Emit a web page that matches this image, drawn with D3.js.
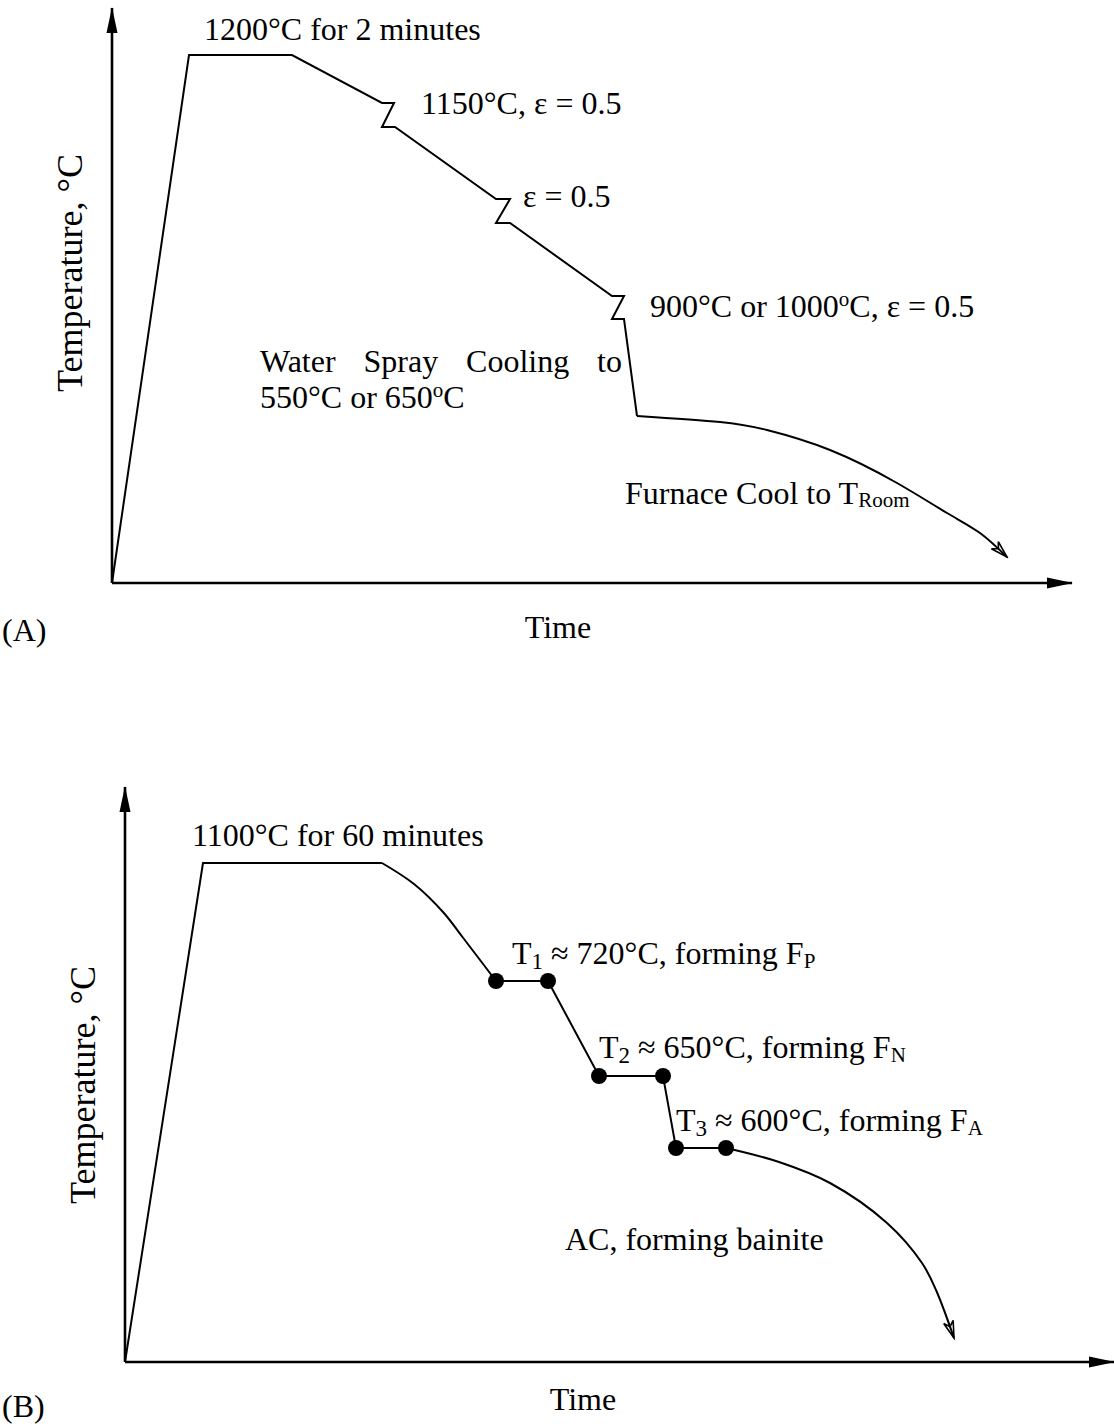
<!DOCTYPE html>
<html><head><meta charset="utf-8">
<script src="https://cdn.jsdelivr.net/npm/d3@7"></script>
<style>
body{margin:0;background:#fff}
svg text{font-family:"Liberation Serif","Times New Roman",serif;fill:#000;white-space:pre}
</style></head><body>
<svg id="c" width="1114" height="1427"></svg>
<script>
// ---------- Panel A: schematic time (t) / temperature (T), arbitrary units ----------
const timeA = [0, 7.7, 18.0, 27.0, 28.2, 27.0, 28.3, 38.4, 39.8, 38.4, 39.8, 50.0, 51.2, 50.0, 51.2, 52.5];
const tempA = [0, 105.6, 105.6, 96.0, 96.0, 91.2, 91.2, 76.8, 76.8, 72.0, 72.0, 57.4, 57.4, 52.8, 52.8, 33.4];
const furnaceTime = [52.5, 60.8, 65.5, 71.8, 78.5, 83.5, 86.8, 89.5];
const furnaceTemp = [33.4, 32.2, 30.6, 26.6, 20.0, 14.0, 10.0, 5.2];

// ---------- Panel B ----------
const timeB = [0, 7.8, 25.7];
const tempB = [0, 99.8, 99.8];
const coolTime = [25.7, 28.9, 31.8, 33.9, 37.1];
const coolTemp = [99.8, 95.6, 90.0, 84.6, 76.2];
const holdTime = [37.1, 42.3, 47.4, 53.8, 55.1, 60.1];
const holdTemp = [76.2, 76.2, 57.2, 57.2, 42.8, 42.8];
const acTime = [60.1, 65.4, 70.5, 76.2, 79.7, 81.1, 82.9];
const acTemp = [42.8, 40.0, 35.8, 27.8, 19.8, 14.4, 4.8];

const axisLabels = {x: "Time", y: "Temperature, °C"};
const panelLabels = ["(A)", "(B)"];

const svg = d3.select("#c");
const FS = 32;

const defs = svg.append("defs");
defs.append("marker").attr("id","axArrow").attr("markerUnits","userSpaceOnUse")
  .attr("viewBox","0 0 26 14").attr("markerWidth",26).attr("markerHeight",14)
  .attr("refX",25).attr("refY",7).attr("orient","auto")
  .append("path").attr("d","M0,1.5 L26,7 L0,12.5 Z").attr("fill","#000");
defs.append("marker").attr("id","openArrow").attr("markerUnits","userSpaceOnUse")
  .attr("viewBox","-20 -8 22 16").attr("markerWidth",22).attr("markerHeight",16)
  .attr("refX",0).attr("refY",0).attr("orient","auto")
  .append("path").attr("d","M-17,-5 L0,0 L-17,5 M-17,-5 L-12,0 L-17,5").attr("fill","none").attr("stroke","#000").attr("stroke-width",1.6);

function zip(a,b){ return a.map((v,i)=>[v,b[i]]); }

function label(g, x, y, parts, size) {
  const t = g.append("text").attr("x", x).attr("y", y).attr("font-size", size || FS);
  let shift = 0;
  parts.forEach(p => {
    if (typeof p === "string") {
      const s = t.append("tspan").text(p);
      if (shift) { s.attr("dy", -shift); shift = 0; }
    } else {
      t.append("tspan").text(p.t).attr("font-size", p.size).attr("dy", p.dy - shift);
      shift = p.dy;
    }
  });
  return t;
}

function axes(g, x, y, tEnd, TEnd, xlabelT, xlabelDy, panel, panelY, ylabelMid) {
  const line = d3.line().x(d=>x(d[0])).y(d=>y(d[1]));
  g.append("path").attr("d", line([[0,0],[tEnd,0]])).attr("stroke","#000").attr("stroke-width",2.6).attr("fill","none").attr("marker-end","url(#axArrow)");
  g.append("path").attr("d", line([[0,0],[0,TEnd]])).attr("stroke","#000").attr("stroke-width",2.6).attr("fill","none").attr("marker-end","url(#axArrow)");
  g.append("text").attr("x", x(xlabelT)).attr("y", y(0)+xlabelDy).attr("text-anchor","middle").attr("font-size",FS).text(axisLabels.x);
  g.append("text").attr("x", 2).attr("y", panelY).attr("font-size",FS).text(panel);
  g.append("text").attr("transform",`translate(${x(0)-30},${y(ylabelMid)}) rotate(-90)`).attr("text-anchor","middle").attr("font-size",36).text(axisLabels.y);
}

// ---------- Panel A ----------
{
  const x = d3.scaleLinear().domain([0,96]).range([112,1072]);
  const y = d3.scaleLinear().domain([0,115]).range([583,8]);
  const g = svg.append("g");
  axes(g, x, y, 96, 115, 44.6, 55, panelLabels[0], 641, 62);
  const ln = d3.line().x(d=>x(d[0])).y(d=>y(d[1]));
  g.append("path").attr("d", ln(zip(timeA,tempA))).attr("fill","none").attr("stroke","#000").attr("stroke-width",2).attr("stroke-linejoin","miter");
  g.append("path").attr("d", d3.line().x(d=>x(d[0])).y(d=>y(d[1])).curve(d3.curveNatural)(zip(furnaceTime,furnaceTemp))).attr("fill","none").attr("stroke","#000").attr("stroke-width",2).attr("marker-end","url(#openArrow)");

  label(g, x(9.2), y(108.6), ["1200°C for 2 minutes"]);
  label(g, x(30.9), y(93.8), ["1150°C, ε = 0.5"]);
  label(g, x(41.1), y(75.2), ["ε = 0.5"]);
  label(g, x(53.8), y(53.2), ["900°C or 1000", {t:"o", size:21, dy:-11}, "C, ε = 0.5"]);
  const w = label(g, x(14.8), y(42.2), ["Water Spray Cooling to"]);
  const natural = w.node().getComputedTextLength();
  w.style("word-spacing", Math.max(0, ((x(51.0)-x(14.8)) - natural)/3) + "px");
  label(g, x(14.8), y(35.0), ["550°C or 650", {t:"o", size:21, dy:-11}, "C"]);
  label(g, x(51.3), y(15.8), ["Furnace Cool to T", {t:"Room", size:21, dy:3}]);
}

// ---------- Panel B ----------
{
  const x = d3.scaleLinear().domain([0,98.9]).range([125,1114]);
  const y = d3.scaleLinear().domain([0,115]).range([1362,787]);
  const g = svg.append("g");
  axes(g, x, y, 98.9, 115, 45.8, 48, panelLabels[1], 1417, 55.4);
  const ln = d3.line().x(d=>x(d[0])).y(d=>y(d[1]));
  g.append("path").attr("d", ln(zip(timeB,tempB))).attr("fill","none").attr("stroke","#000").attr("stroke-width",2);
  g.append("path").attr("d", d3.line().x(d=>x(d[0])).y(d=>y(d[1])).curve(d3.curveCatmullRom.alpha(0.5))(zip(coolTime,coolTemp))).attr("fill","none").attr("stroke","#000").attr("stroke-width",2);
  g.append("path").attr("d", ln(zip(holdTime,holdTemp))).attr("fill","none").attr("stroke","#000").attr("stroke-width",2);
  g.append("path").attr("d", d3.line().x(d=>x(d[0])).y(d=>y(d[1])).curve(d3.curveCatmullRom.alpha(0.5))(zip(acTime,acTemp))).attr("fill","none").attr("stroke","#000").attr("stroke-width",2).attr("marker-end","url(#openArrow)");
  g.selectAll("circle").data(zip(holdTime,holdTemp)).join("circle")
    .attr("cx", d=>x(d[0])).attr("cy", d=>y(d[1])).attr("r", 8).attr("fill","#000");

  label(g, x(6.7), y(103.2), ["1100°C for 60 minutes"]);
  label(g, x(38.7), y(79.6), ["T", {t:"1", size:23, dy:5}, " ≈ 720°C, forming F", {t:"P", size:21, dy:4}]);
  label(g, x(47.4), y(60.8), ["T", {t:"2", size:23, dy:5}, " ≈ 650°C, forming F", {t:"N", size:21, dy:4}]);
  label(g, x(55.1), y(46.2), ["T", {t:"3", size:23, dy:5}, " ≈ 600°C, forming F", {t:"A", size:21, dy:4}]);
  label(g, x(44.0), y(22.4), ["AC, forming bainite"]);
}
</script>
</body></html>
